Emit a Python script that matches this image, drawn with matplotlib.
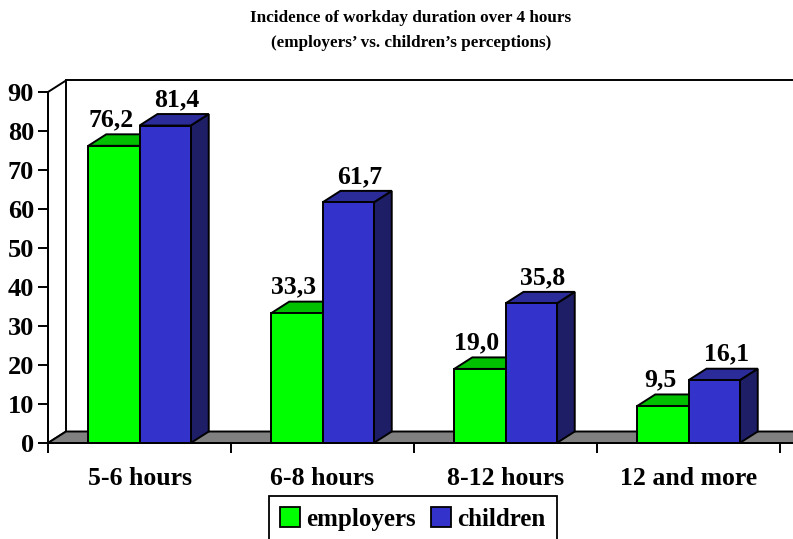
import matplotlib.pyplot as plt
from matplotlib.patches import Polygon, Rectangle, Patch

# data
categories = ['5-6 hours', '6-8 hours', '8-12 hours', '12 and more']
employers = [76.2, 33.3, 19.0, 9.5]
children = [81.4, 61.7, 35.8, 16.1]
series_names = ['employers', 'children']
title = 'Incidence of workday duration over 4 hours\n(employers\u2019 vs. children\u2019s perceptions)'

plt.rcParams['font.family'] = ['Liberation Serif', 'DejaVu Serif']
plt.rcParams['font.weight'] = 'bold'

fig = plt.figure(figsize=(7.93, 5.39), dpi=100)
W, H = 793, 539
ax = fig.add_axes([48 / W, 1 - 443 / H, (780 - 48) / W, (443 - 92) / H])
ax.set_xlim(-0.5, 3.5)
ax.set_ylim(0, 90)

# depth offset (data units)
px_x = 183.0   # pixels per category
px_y = 3.9     # pixels per unit
ddx = 18 / px_x
ddy = 11.5 / px_y
w = 0.28
lw = 1.4

# side wall and back wall
ax.add_patch(Polygon([(-0.5, 0), (-0.5, 90), (-0.5 + ddx, 90 + ddy), (-0.5 + ddx, ddy)],
                     closed=True, facecolor='white', edgecolor='black', lw=lw, clip_on=False, zorder=1))
ax.plot([-0.5 + ddx, 3.6 + ddx], [90 + ddy, 90 + ddy], color='black', lw=lw, clip_on=False, zorder=1)

# floor
ax.add_patch(Polygon([(-0.5, 0), (3.6, 0), (3.6 + ddx, ddy), (-0.5 + ddx, ddy)],
                     closed=True, facecolor='#808080', edgecolor='black', lw=lw, clip_on=False, zorder=1))

styles = [
    ('#00FF00', '#00C000', '#008000', -3),
    ('#3333CC', '#2B2B99', '#1E1E66', 12),
]

for j, vals in enumerate([employers, children]):
    front, top, side, lab_off = styles[j]
    for i, v in enumerate(vals):
        x0 = i + (j - 1) * w
        ax.add_patch(Polygon([(x0 + w, 0), (x0 + w + ddx, ddy), (x0 + w + ddx, v + ddy), (x0 + w, v)],
                             closed=True, facecolor=side, edgecolor='black', lw=lw, clip_on=False, zorder=2 + j))
        ax.add_patch(Polygon([(x0, v), (x0 + w, v), (x0 + w + ddx, v + ddy), (x0 + ddx, v + ddy)],
                             closed=True, facecolor=top, edgecolor='black', lw=lw, clip_on=False, zorder=2 + j))
        ax.add_patch(Rectangle((x0, 0), w, v, facecolor=front, edgecolor='black', lw=lw,
                               clip_on=False, zorder=2 + j))
        ax.text(x0 + w / 2 + lab_off / px_x, v + ddy + 8 / px_y, f'{v:.1f}'.replace('.', ','),
                ha='center', va='baseline', fontsize=18.5, fontweight='bold', zorder=5)

# axes styling
for s in ['top', 'right']:
    ax.spines[s].set_visible(False)
ax.spines['left'].set_linewidth(lw)
ax.spines['bottom'].set_linewidth(lw)
ax.spines['left'].set_zorder(6)
ax.spines['bottom'].set_zorder(6)
ax.set_yticks(range(0, 91, 10))
ax.tick_params(axis='y', direction='out', length=7, width=lw, pad=3, labelsize=19)
ax.set_xticks(range(len(categories)))
ax.set_xticklabels(categories, fontsize=18.5, fontweight='bold')
ax.set_xticks([-0.5, 0.5, 1.5, 2.5, 3.5], minor=True)
ax.tick_params(axis='x', which='major', length=0, pad=17)
ax.tick_params(axis='x', which='minor', direction='out', length=7, width=lw)
for lab in ax.get_yticklabels():
    lab.set_fontweight('bold')

fig.text(411 / W, 1 - 30.5 / H, title, ha='center', va='center', fontsize=12.3,
         fontweight='bold', linespacing=1.75)

handles = [Patch(facecolor=styles[k][0], edgecolor='black', lw=1.3) for k in range(2)]
leg = fig.legend(handles, series_names, loc='center', bbox_to_anchor=(413 / W, 1 - 519 / H),
                 ncol=2, fancybox=False, edgecolor='black', framealpha=1,
                 prop={'size': 18, 'weight': 'bold'}, handlelength=0.8, handleheight=0.8,
                 handletextpad=0.25, columnspacing=0.6, borderpad=0.45, borderaxespad=0)
leg.get_frame().set_linewidth(1.3)

fig.savefig('out.png', dpi=100)
